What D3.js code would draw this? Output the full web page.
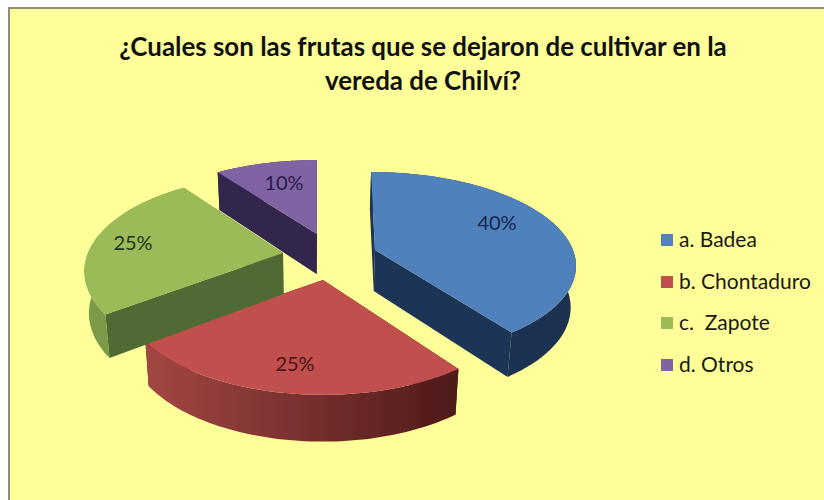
<!DOCTYPE html>
<html><head><meta charset="utf-8">
<script src="https://cdn.jsdelivr.net/npm/d3@7"></script>
<style>html,body{margin:0;padding:0;background:#fff}svg{display:block}text{font-family:Lato,"Open Sans",sans-serif}</style>
</head><body><div id="c"></div>
<script>
const titleLines = ["¿Cuales son las frutas que se dejaron de cultivar en la", "vereda de Chilví?"];
const categories = ["a. Badea", "b. Chontaduro", "c.  Zapote", "d. Otros"];
const values = [40, 25, 25, 10];
const labels = ["40%", "25%", "25%", "10%"];
const topColors = ["#4f81bd", "#c0504d", "#9bbb59", "#8064a2"];
const cutColors = ["#1d3557", "#5a1f1e", "#506b30", "#33264e"];
const rimLight = ["#1d3557", "#a34644", "#7f9c4a", "#33264e"];
const rimDark = ["#1b3150", "#4e1a1a", "#6d8a3f", "#33264e"];
const textColors = ["#14264f", "#4a1414", "#1f3318", "#2a1a4a"];
const centers = [[375, 250], [323, 280], [283, 253], [317, 234]];
const persp = [0.15, 0.19, 0.19, 0.19];
const radiusX = [198, 195, 195, 195];
const radiusY = [89.7, 93, 93, 88];
const shear = [0.05, 0, 0, 0];
const labelPos = [[497, 223], [295, 364], [133, 243], [284, 183]];
const legendY = [240, 282, 323, 365];

const W = 824, H = 500, DEPTH = 41, VX = 310;
const svg = d3.select("#c").append("svg").attr("width", W).attr("height", H);
const defs = svg.append("defs");
const f = defs.append("filter").attr("id", "soft").attr("x", "-5%").attr("y", "-5%").attr("width", "110%").attr("height", "110%");
f.append("feGaussianBlur").attr("stdDeviation", 0.5);

svg.append("rect").attr("x", 9).attr("y", 8).attr("width", W).attr("height", H).attr("fill", "#ffff99").attr("stroke", "#8f8f78").attr("stroke-width", 2);

svg.append("g").selectAll("text").data(titleLines).join("text")
  .attr("x", 423).attr("y", (d, i) => 56 + i * 33.5).attr("text-anchor", "middle")
  .attr("font-size", 25.9).attr("font-weight", 700).attr("fill", "#111").text(d => d);

const pie = d3.pie().sort(null).value(d => d);
const arcs = pie(values);
function project(i, a, r, z) {
  const c = centers[i], k = persp[i];
  const u = Math.sin(a) * r, v = Math.cos(a) * r, w = 1 + k * v;
  const dy = -radiusY[i] * v / w;
  const x = c[0] + radiusX[i] * u / w + shear[i] * dy, y = c[1] + dy;
  const depth = DEPTH + 0.04 * (y - 250);
  return [x - (x - VX) * 0.02 * z, y + depth * z];
}
const line = d3.line();
const order = [3, 0, 1, 2];
const pie3d = svg.append("g").attr("filter", "url(#soft)");
order.forEach(i => {
  const a = arcs[i];
  const steps = d3.range(0, 61).map(s => a.startAngle + (a.endAngle - a.startAngle) * s / 60);
  const g = pie3d.append("g");
  const rimT = steps.map(t => project(i, t, 1, 0));
  const rimB = steps.map(t => project(i, t, 1, 1));
  const xs = rimT.map(p => p[0]);
  const gid = "rim" + i;
  const lg = defs.append("linearGradient").attr("id", gid).attr("gradientUnits", "userSpaceOnUse")
    .attr("x1", d3.min(xs)).attr("x2", d3.max(xs)).attr("y1", 0).attr("y2", 0);
  lg.append("stop").attr("offset", 0).attr("stop-color", rimLight[i]);
  lg.append("stop").attr("offset", 1).attr("stop-color", rimDark[i]);
  const p0 = project(i, 0, 0, 0), p1 = project(i, 0, 0, 1);
  [a.startAngle, a.endAngle].forEach(t => {
    g.append("path").attr("fill", cutColors[i])
      .attr("d", line([p0, project(i, t, 1, 0), project(i, t, 1, 1), p1]) + "Z");
  });
  g.append("path").attr("fill", "url(#" + gid + ")")
    .attr("d", line(rimT.concat(rimB.slice().reverse())) + "Z");
  g.append("path").attr("fill", topColors[i])
    .attr("d", line([p0].concat(rimT)) + "Z");
});

svg.append("g").selectAll("text").data(labels).join("text")
  .attr("x", (d, i) => labelPos[i][0]).attr("y", (d, i) => labelPos[i][1] + 7)
  .attr("text-anchor", "middle").attr("font-size", 20).attr("fill", (d, i) => textColors[i]).text(d => d);

const lg = svg.append("g").selectAll("g").data(categories).join("g");
lg.append("rect").attr("x", 661).attr("y", (d, i) => legendY[i] - 6).attr("width", 12).attr("height", 12)
  .attr("fill", (d, i) => topColors[i]);
lg.append("text").attr("x", 679).attr("y", (d, i) => legendY[i] + 7).attr("font-size", 21).attr("fill", "#1a1a10")
  .attr("xml:space", "preserve").style("white-space", "pre").text(d => d);
</script></body></html>
